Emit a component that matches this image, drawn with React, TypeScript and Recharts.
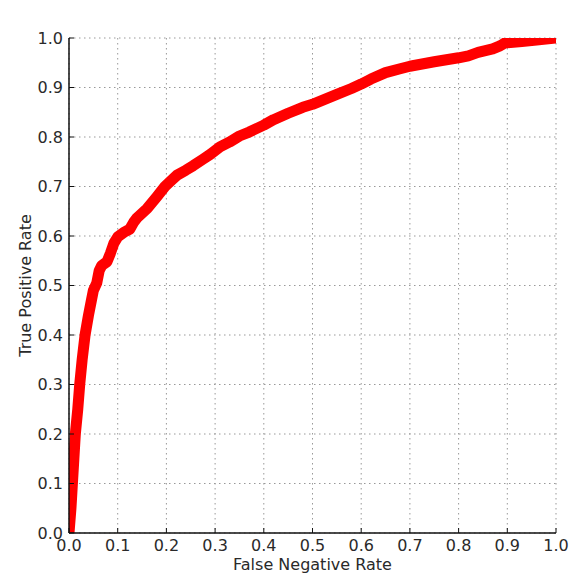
import React from 'react';
import { LineChart, Line, XAxis, YAxis, CartesianGrid } from 'recharts';

const fpr = [0, 0.004, 0.007, 0.01, 0.013, 0.018, 0.022, 0.027, 0.033, 0.04, 0.046, 0.05, 0.057, 0.062, 0.067, 0.078, 0.085, 0.092, 0.1, 0.112, 0.125, 0.133, 0.14, 0.16, 0.18, 0.197, 0.21, 0.222, 0.24, 0.255, 0.275, 0.29, 0.31, 0.33, 0.35, 0.37, 0.4, 0.42, 0.45, 0.48, 0.5, 0.53, 0.55, 0.58, 0.6, 0.62, 0.65, 0.68, 0.7, 0.75, 0.8, 0.82, 0.84, 0.87, 0.885, 0.895, 0.93, 0.96, 1.0];
const tpr = [0, 0.05, 0.1, 0.15, 0.2, 0.25, 0.3, 0.35, 0.4, 0.44, 0.47, 0.49, 0.505, 0.53, 0.54, 0.548, 0.565, 0.585, 0.598, 0.607, 0.614, 0.628, 0.637, 0.655, 0.679, 0.7, 0.712, 0.723, 0.733, 0.742, 0.755, 0.765, 0.78, 0.79, 0.802, 0.81, 0.824, 0.835, 0.848, 0.86, 0.866, 0.878, 0.886, 0.898, 0.907, 0.917, 0.93, 0.938, 0.943, 0.952, 0.96, 0.964, 0.971, 0.978, 0.984, 0.99, 0.993, 0.996, 1.0];
const ticks = [0, 0.1, 0.2, 0.3, 0.4, 0.5, 0.6, 0.7, 0.8, 0.9, 1.0];

const title = 'KLR ROC Curve';
const xLabel = 'False Negative Rate';
const yLabel = 'True Positive Rate';

const data = fpr.map((x, i) => ({ fpr: x, tpr: tpr[i] }));

const FONT = 'DejaVu Sans';
const TEXT = '#2a2a2a';
const FRAME = '#111';
const tickStyle = { fontSize: 16, fill: TEXT, fontFamily: FONT };
const fmt = (v: number) => v.toFixed(1);

export default function App() {
  return (
    <div style={{ position: 'absolute', left: 0, top: 0, background: '#fff' }}>
      <LineChart width={578} height={574} data={data} margin={{ top: 38, right: 22, left: 9, bottom: 0 }}>
        <CartesianGrid stroke="#999" strokeDasharray="1.5 3.5" strokeWidth={1} />
        <XAxis
          dataKey="fpr"
          type="number"
          domain={[0, 1]}
          ticks={ticks}
          allowDataOverflow
          tickFormatter={fmt}
          height={41}
          tickSize={-5}
          tickMargin={12}
          tick={tickStyle}
          axisLine={{ stroke: FRAME, strokeWidth: 1.5 }}
          tickLine={{ stroke: FRAME }}
          interval={0}
          label={{ value: xLabel, position: 'insideBottom', offset: 4, fontSize: 16, fill: TEXT, fontFamily: FONT }}
        />
        <XAxis
          xAxisId="top"
          orientation="top"
          dataKey="fpr"
          type="number"
          domain={[0, 1]}
          ticks={ticks}
          allowDataOverflow
          height={0}
          tickSize={-5}
          tick={false}
          axisLine={{ stroke: FRAME, strokeWidth: 1.5 }}
          tickLine={{ stroke: FRAME }}
          interval={0}
          label={{ value: title, position: 'top', offset: 6, fontSize: 18, fill: TEXT, fontFamily: FONT }}
        />
        <YAxis
          type="number"
          domain={[0, 1]}
          ticks={ticks}
          allowDataOverflow
          tickFormatter={fmt}
          width={60}
          tickSize={-5}
          tickMargin={11}
          tick={tickStyle}
          axisLine={{ stroke: FRAME, strokeWidth: 1.5 }}
          tickLine={{ stroke: FRAME }}
          interval={0}
          label={{ value: yLabel, angle: -90, position: 'insideLeft', textAnchor: 'middle', offset: 16, fontSize: 16, fill: TEXT, fontFamily: FONT }}
        />
        <YAxis
          yAxisId="right"
          orientation="right"
          type="number"
          domain={[0, 1]}
          ticks={ticks}
          allowDataOverflow
          width={0}
          tickSize={-5}
          tick={false}
          axisLine={{ stroke: FRAME, strokeWidth: 1.5 }}
          tickLine={{ stroke: FRAME }}
          interval={0}
        />
        <Line
          dataKey="tpr"
          type="linear"
          stroke="#ff0000"
          strokeWidth={11}
          strokeLinejoin="round"
          dot={false}
          isAnimationActive={false}
        />
      </LineChart>
    </div>
  );
}
